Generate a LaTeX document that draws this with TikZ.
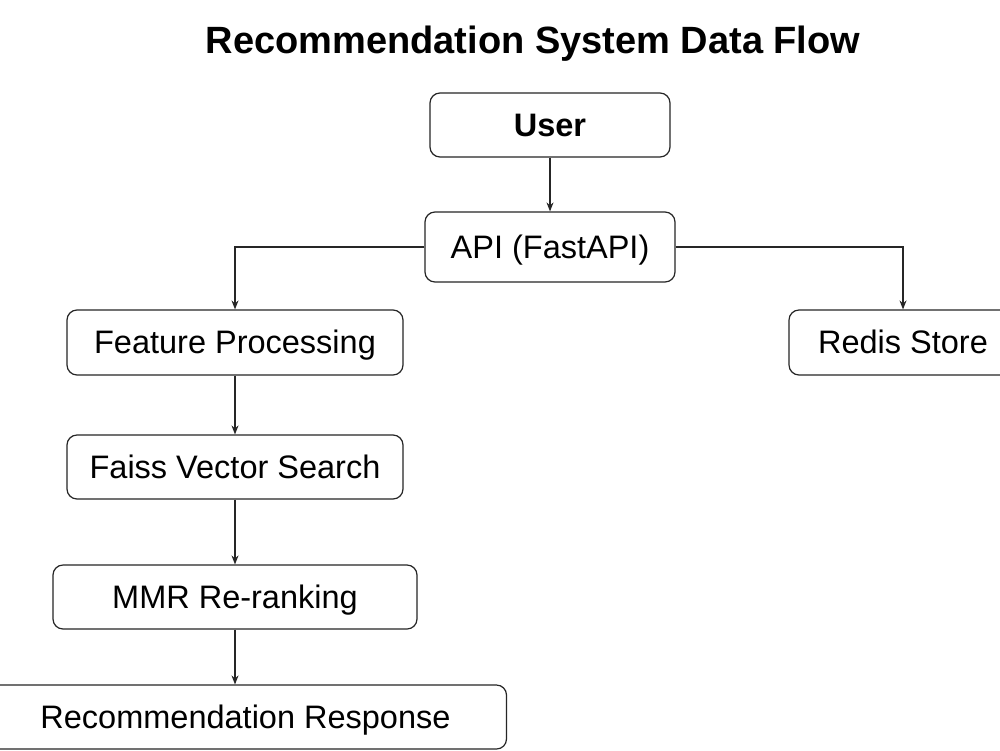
\documentclass[tikz,border=0pt]{standalone}
\usepackage{fontspec}
\setmainfont{Liberation Sans}
\usetikzlibrary{arrows.meta}
\begin{document}
\begin{tikzpicture}[x=1pt,y=-1pt,
  box/.style={draw=black!85,line width=1.2pt,rounded corners=10pt,fill=white,inner sep=0pt,
    text height=26pt,text depth=3.4pt,
    font=\fontsize{32.5}{38}\selectfont},
  conn/.style={draw=black!85,line width=1.1pt,-{Stealth[length=9pt,width=7pt]}}]
\useasboundingbox (0,0) rectangle (1000,750);
\clip (0,0) rectangle (1000,750);
\fill[white] (0,0) rectangle (1000,750);
\node[font=\bfseries\fontsize{38}{44}\selectfont,text height=27.4pt,text depth=7.6pt] (title) at (533,44) {Recommendation System Data Flow};
\node[box,minimum width=240pt,minimum height=64pt,font=\bfseries\fontsize{32.5}{38}\selectfont] (user) at (550,125) {User};
\node[box,minimum width=250pt,minimum height=70pt] (api) at (550,247) {API (FastAPI)};
\node[box,minimum width=336pt,minimum height=65pt] (feat) at (235,342.5) {Feature Processing};
\node[box,minimum width=228pt,minimum height=65pt] (redis) at (903,342.5) {Redis Store};
\node[box,minimum width=336pt,minimum height=64pt] (faiss) at (235,467) {Faiss Vector Search};
\node[box,minimum width=364pt,minimum height=64pt] (mmr) at (235,597) {MMR Re-ranking};
\node[box,minimum width=522pt,minimum height=64pt] (resp) at (245.5,717) {Recommendation Response};
\draw[conn] (user) -- (api);
\draw[conn] (api.west) -| (feat.north);
\draw[conn] (api.east) -| (redis.north);
\draw[conn] (feat) -- (faiss);
\draw[conn] (faiss) -- (mmr);
\draw[conn] (mmr.south) -- (mmr.south |- resp.north);
\end{tikzpicture}
\end{document}
